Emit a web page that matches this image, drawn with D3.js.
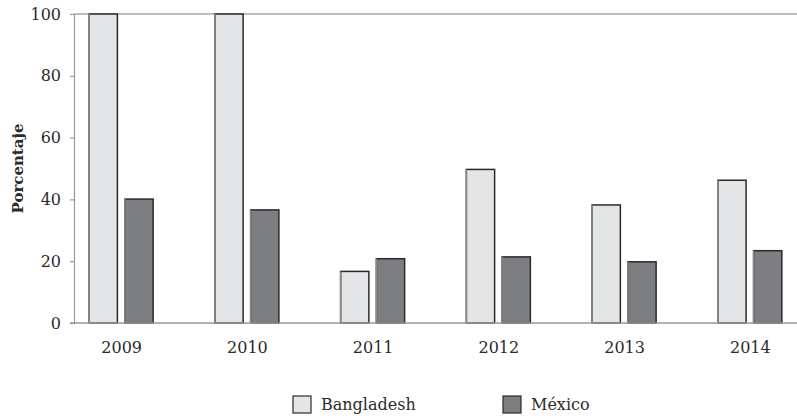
<!DOCTYPE html>
<html>
<head>
<meta charset="utf-8">
<script src="https://cdn.jsdelivr.net/npm/d3@7"></script>
<style>
  html, body { margin: 0; padding: 0; background: #fff; }
  svg text { font-family: "DejaVu Serif", "Liberation Serif", serif; fill: #2b2b2b; }
</style>
</head>
<body>
<svg id="chart" width="797" height="418"></svg>
<script>
// Years on the x axis
const years = ["2009", "2010", "2011", "2012", "2013", "2014"];
// Series names
const series = ["Bangladesh", "México"];
// Percentages per year
const bangladesh = [100, 100, 16.7, 49.7, 38.2, 46.2];
const mexico = [40.1, 36.6, 20.8, 21.4, 19.8, 23.4];
// Y-axis ticks
const yTicks = [0, 20, 40, 60, 80, 100];

const values = { "Bangladesh": bangladesh, "México": mexico };
const fills = { "Bangladesh": "#e4e5e7", "México": "#7d7e82" };

const svg = d3.select("#chart");
const plotLeft = 74, plotRight = 797, plotTop = 14, plotBottom = 323;

const x = d3.scalePoint().domain(years).range([plotLeft, plotRight]).padding(0.375);
const inner = d3.scaleBand().domain(series).range([-32, 32]).paddingInner(0.21);
const y = d3.scaleLinear().domain([0, 100]).range([plotBottom, plotTop]);

// top frame line
svg.append("line").attr("x1", plotLeft).attr("x2", plotRight).attr("y1", plotTop).attr("y2", plotTop)
  .attr("stroke", "#a8a8a8").attr("stroke-width", 1.5);

const yAxis = svg.append("g").attr("transform", `translate(${plotLeft},0)`)
  .call(d3.axisLeft(y).tickValues(yTicks).tickSize(4).tickPadding(9).tickFormat(d3.format("d")));
yAxis.select(".domain").attr("stroke", "#999").attr("stroke-width", 1.2);
yAxis.selectAll(".tick line").attr("stroke", "#999").attr("stroke-width", 1.2);
yAxis.selectAll(".tick text").style("font-size", "16px").attr("fill", "#2b2b2b");

// bars
years.forEach((yr, i) => {
  series.forEach(s => {
    const v = values[s][i];
    const x0 = x(yr) + inner(s);
    const w = inner.bandwidth();
    const g = svg.append("g");
    g.append("rect")
      .attr("x", x0).attr("y", y(v))
      .attr("width", w).attr("height", y(0) - y(v))
      .attr("fill", fills[s]).attr("stroke", "#2a2a2a").attr("stroke-width", 1.5);
    g.append("line")
      .attr("x1", x0).attr("x2", x0).attr("y1", y(v)).attr("y2", y(0))
      .attr("stroke", "#8a8a8a").attr("stroke-width", 1.5);
  });
});

// baseline over bar bottoms
svg.append("line").attr("x1", plotLeft - 4).attr("x2", plotRight).attr("y1", plotBottom).attr("y2", plotBottom)
  .attr("stroke", "#999").attr("stroke-width", 1.5);

// x labels
const xAxis = svg.append("g").attr("transform", `translate(0,${plotBottom})`)
  .call(d3.axisBottom(x).tickSize(0).tickPadding(19));
xAxis.select(".domain").remove();
xAxis.selectAll(".tick text").style("font-size", "16px").attr("fill", "#2b2b2b");

// y title
svg.append("text")
  .attr("transform", `translate(23,${(plotTop + plotBottom) / 2}) rotate(-90)`)
  .attr("text-anchor", "middle")
  .style("font-size", "15px").style("font-weight", "bold")
  .text("Porcentaje");

// legend
const legendPos = { "Bangladesh": 293, "México": 503 };
series.forEach(s => {
  const lx = legendPos[s];
  svg.append("rect").attr("x", lx).attr("y", 396).attr("width", 18).attr("height", 17)
    .attr("fill", fills[s]).attr("stroke", "#2a2a2a").attr("stroke-width", 1.2);
  svg.append("text").attr("x", lx + 28).attr("y", 410)
    .style("font-size", "16px").text(s);
});
</script>
</body>
</html>
